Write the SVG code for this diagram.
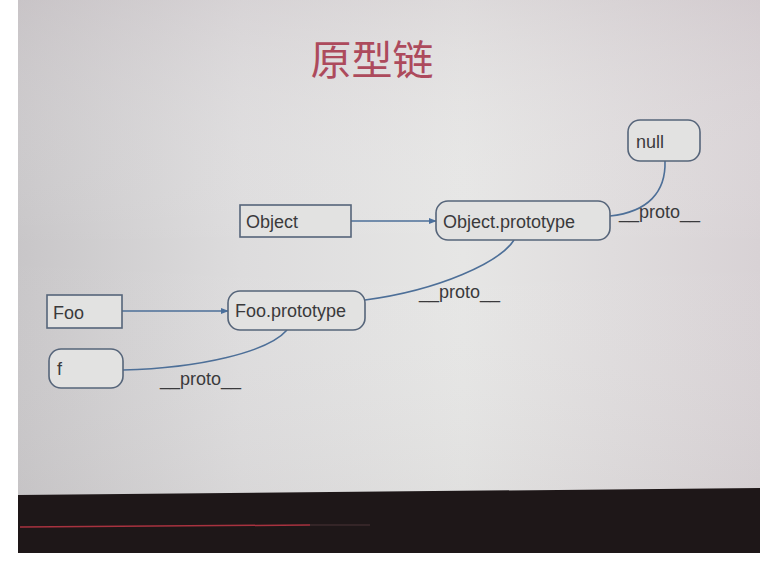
<svg xmlns="http://www.w3.org/2000/svg" width="779" height="562" viewBox="0 0 779 562">
<defs>
<linearGradient id="bg" x1="0" y1="0" x2="1" y2="0">
<stop offset="0" stop-color="#c8c6c8"/>
<stop offset="0.3" stop-color="#dddcdd"/>
<stop offset="0.6" stop-color="#e6e6e5"/>
<stop offset="1" stop-color="#d8d2d5"/>
</linearGradient>
<linearGradient id="bgv" x1="0" y1="0" x2="0" y2="1">
<stop offset="0" stop-color="#c9bfc4" stop-opacity="0.3"/>
<stop offset="0.5" stop-color="#ffffff" stop-opacity="0"/>
<stop offset="1" stop-color="#b8b4b4" stop-opacity="0.12"/>
</linearGradient>
<marker id="arr" viewBox="0 0 10 10" refX="9" refY="5" markerWidth="8" markerHeight="8" markerUnits="userSpaceOnUse" orient="auto">
<path d="M0,1 L10,5 L0,9 z" fill="#4a6f9c"/>
</marker>
<style>
.box{fill:#e2e2e1;stroke:#56657a;stroke-width:1.6}
.lbl{font-family:"Liberation Sans",Arial,sans-serif;font-size:18px;fill:#3a3a3c}
.edge{fill:none;stroke:#4d6f98;stroke-width:1.6}
.pl{font-family:"Liberation Sans",Arial,sans-serif;font-size:18px;fill:#3a3a3c}
</style>
</defs>
<rect x="0" y="0" width="779" height="562" fill="#ffffff"/>
<rect x="18" y="0" width="742" height="496" fill="url(#bg)"/>
<rect x="18" y="0" width="742" height="496" fill="url(#bgv)"/>
<polygon points="18,495 760,488 760,553 18,553" fill="#1e1718"/>
<line x1="20" y1="527" x2="310" y2="525" stroke="#a8323f" stroke-width="1.5"/>
<line x1="310" y1="525" x2="370" y2="525" stroke="#4a3436" stroke-width="1.2"/>
<text x="372" y="75" text-anchor="middle" font-family="'Noto Sans CJK SC',sans-serif" font-size="41" fill="#ad4a5c">原型链</text>
<g id="edges">
<line class="edge" x1="351" y1="221" x2="436" y2="221" marker-end="url(#arr)"/>
<line class="edge" x1="122" y1="311" x2="228" y2="311" marker-end="url(#arr)"/>
<path class="edge" d="M123,370 C200,368 268,352 287,330"/>
<path class="edge" d="M365,300 C440,290 500,262 514,240"/>
<path class="edge" d="M610,216 C648,212 666,192 665,161"/>
<text class="pl" x="160" y="385">__proto__</text>
<text class="pl" x="419" y="298">__proto__</text>
<text class="pl" x="619" y="218">__proto__</text>
</g>
<g id="object">
<rect class="box" x="240" y="205" width="111" height="32"/>
<text class="lbl" x="246" y="228">Object</text>
</g>
<g id="object-prototype">
<rect class="box" x="436" y="201" width="174" height="39" rx="12"/>
<text class="lbl" x="443" y="228">Object.prototype</text>
</g>
<g id="null">
<rect class="box" x="628" y="120" width="72" height="41" rx="12"/>
<text class="lbl" x="636" y="148">null</text>
</g>
<g id="foo">
<rect class="box" x="47" y="295" width="75" height="33"/>
<text class="lbl" x="53" y="319">Foo</text>
</g>
<g id="foo-prototype">
<rect class="box" x="228" y="291" width="137" height="39" rx="12"/>
<text class="lbl" x="235" y="317">Foo.prototype</text>
</g>
<g id="f">
<rect class="box" x="49" y="349" width="74" height="39" rx="12"/>
<text class="lbl" x="57" y="375">f</text>
</g>
</svg>
